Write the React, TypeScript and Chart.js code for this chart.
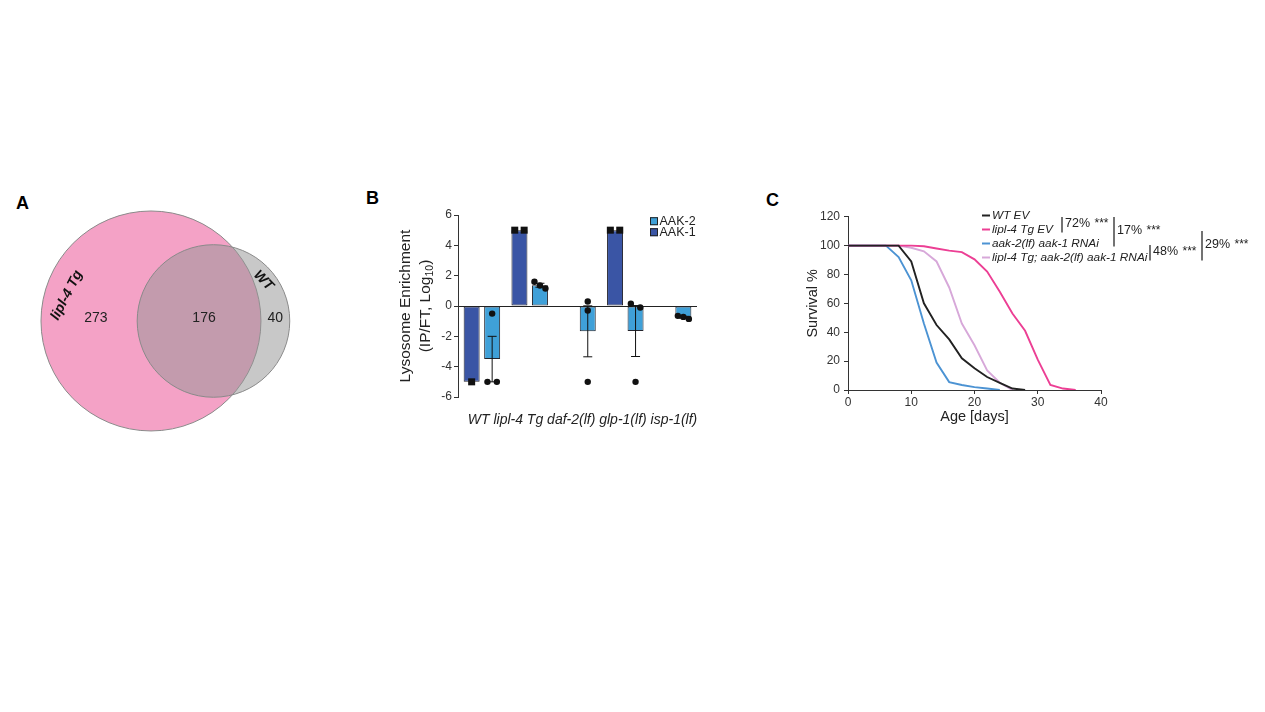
import React, { useEffect, useRef } from "react";
import { Chart, registerables } from "chart.js";

Chart.register(...registerables);

const FONT = "'Liberation Sans', Arial, Helvetica, sans-serif";
Chart.defaults.font.family = FONT;
Chart.defaults.color = "#333";

// ---- Panel A: lysosomal protein sets ----
const vennSetNames = ["lipl-4 Tg", "WT"];
const vennUniqueCounts = [273, 40];
const vennSharedCount = 176;

// ---- Panel B: lysosome enrichment of AAK-1 / AAK-2 ----
const strainLabels = ["WT", "lipl-4 Tg", "daf-2(lf)", "glp-1(lf)", "isp-1(lf)"];
const aak1Mean = [-5, 5, null, 5, null];
const aak1Sem = [0, 0, null, 0, null];
const aak1Points = [[-5], [5, 5], [], [5, 5], []];
const aak2Mean = [-3.5, 1.37, -1.67, -1.65, -0.74];
const aak2Sem = [1.5, 0.13, 1.68, 1.68, 0.06];
const aak2Points = [
  [-0.5, -5, -5],
  [1.6, 1.15, 1.35],
  [0.3, -0.3, -5],
  [0.15, -0.1, -5],
  [-0.85, -0.65, -0.72],
];
const enrichmentTicks = [-6, -4, -2, 0, 2, 4, 6];

// ---- Panel C: lifespan ----
const ageDays = [0, 2, 4, 6, 8, 10, 12, 14, 16, 18, 20, 22, 24, 26, 28, 30, 32, 34, 36];
const survivalWT = [100, 100, 100, 100, 100, 89, 60, 45, 35, 22, 15, 9, 5, 1, 0, null, null, null, null];
const survivalLipl4 = [100, 100, 100, 100, 100, 100, 99.5, 98, 96.5, 95.5, 90.5, 82, 68, 53, 41, 21, 3.5, 1, 0];
const survivalAak = [100, 100, 100, 100, 92, 76, 46, 19, 5.5, 3.5, 2, 1, 0, null, null, null, null, null, null];
const survivalLipl4Aak = [100, 100, 100, 100, 100, 98.5, 96, 89, 71, 46, 31, 13.5, 5, 0, null, null, null, null, null];
const survivalNames = ["WT EV", "lipl-4 Tg EV", "aak-2(lf) aak-1 RNAi", "lipl-4 Tg; aak-2(lf) aak-1 RNAi"];
const survivalColors = ["#222222", "#EC3F94", "#4C93D3", "#D7A8D9"];
const lifespanChange = ["72%", "17%", "48%", "29%"];
const lifespanPairs = [[0, 1], [0, 2], [2, 3], [1, 3]];
const survivalTicks = [0, 20, 40, 60, 80, 100, 120];
const ageTicks = [0, 10, 20, 30, 40];

// ---------- geometry for the area-proportional Venn ----------
function lensArea(r1: number, r2: number, d: number) {
  if (d >= r1 + r2) return 0;
  if (d <= Math.abs(r1 - r2)) return Math.PI * Math.min(r1, r2) ** 2;
  const a1 = Math.acos((d * d + r1 * r1 - r2 * r2) / (2 * d * r1));
  const a2 = Math.acos((d * d + r2 * r2 - r1 * r1) / (2 * d * r2));
  const k = Math.sqrt((-d + r1 + r2) * (d + r1 - r2) * (d - r1 + r2) * (d + r1 + r2));
  return r1 * r1 * a1 + r2 * r2 * a2 - 0.5 * k;
}

function centerDistance(r1: number, r2: number, shared: number) {
  let lo = Math.abs(r1 - r2);
  let hi = r1 + r2;
  for (let i = 0; i < 60; i++) {
    const mid = (lo + hi) / 2;
    if (lensArea(r1, r2, mid) > shared) lo = mid;
    else hi = mid;
  }
  return (lo + hi) / 2;
}

function drawRotated(ctx: CanvasRenderingContext2D, text: string, x: number, y: number, deg: number) {
  ctx.save();
  ctx.translate(x, y);
  ctx.rotate((deg * Math.PI) / 180);
  ctx.fillText(text, 0, 0);
  ctx.restore();
}

const VENN_W = 330;
const VENN_H = 290;
const VENN_X = { min: -16.41, max: 19.46 };
const VENN_Y = { min: -15.11, max: 16.41 };

function VennPanel() {
  const ref = useRef<HTMLCanvasElement>(null);
  useEffect(() => {
    const totals = [vennUniqueCounts[0] + vennSharedCount, vennUniqueCounts[1] + vennSharedCount];
    const radii = totals.map((n) => Math.sqrt(n / Math.PI));
    const dist = centerDistance(radii[0], radii[1], vennSharedCount);
    // axes are hidden and padding is zero, so the plot spans the whole canvas
    const pxPerUnit = VENN_W / (VENN_X.max - VENN_X.min);

    const labelsPlugin = {
      id: "vennLabels",
      afterDatasetsDraw(chart: any) {
        const ctx = chart.ctx as CanvasRenderingContext2D;
        const xs = chart.scales.x;
        const ys = chart.scales.y;
        const u = Math.abs(xs.getPixelForValue(1) - xs.getPixelForValue(0));
        const c1x = xs.getPixelForValue(0);
        const c2x = xs.getPixelForValue(dist);
        const cy = ys.getPixelForValue(0);
        const R1 = radii[0] * u;
        const R2 = radii[1] * u;
        const aLeft = c1x - R1;
        const aRight = c1x + R1;
        const bLeft = c2x - R2;
        const bRight = c2x + R2;
        ctx.save();
        ctx.fillStyle = "#222";
        ctx.textAlign = "center";
        ctx.textBaseline = "middle";
        ctx.font = `14px ${FONT}`;
        ctx.fillText(String(vennUniqueCounts[0]), aLeft + 0.57 * (bLeft - aLeft), cy - 3);
        ctx.fillText(String(vennSharedCount), bLeft + 0.54 * (aRight - bLeft), cy - 3);
        ctx.fillText(String(vennUniqueCounts[1]), (aRight + bRight) / 2, cy - 3);

        ctx.fillStyle = "#111";
        ctx.font = `italic bold 14px ${FONT}`;
        const t1 = (197 * Math.PI) / 180;
        drawRotated(ctx, vennSetNames[0], c1x + (R1 - 22) * Math.cos(t1), cy + (R1 - 22) * Math.sin(t1), -63);
        const t2 = (-39 * Math.PI) / 180;
        drawRotated(ctx, vennSetNames[1], c2x + (R2 - 12) * Math.cos(t2), cy + (R2 - 12) * Math.sin(t2), 45);
        ctx.restore();
      },
    };

    const chart = new Chart(ref.current as HTMLCanvasElement, {
      type: "bubble",
      data: {
        datasets: [
          {
            label: vennSetNames[1],
            data: [{ x: dist, y: 0, r: radii[1] * pxPerUnit }],
            backgroundColor: "rgba(150,150,150,0.52)",
            borderColor: "#8a8a8a",
            borderWidth: 1,
            order: 0,
            clip: false,
          } as any,
          {
            label: vennSetNames[0],
            data: [{ x: 0, y: 0, r: radii[0] * pxPerUnit }],
            backgroundColor: "#F4A2C6",
            borderColor: "#8a8a8a",
            borderWidth: 1,
            order: 1,
            clip: false,
          } as any,
        ],
      },
      options: {
        responsive: false,
        animation: false,
        events: [],
        layout: { padding: 0, autoPadding: false },
        plugins: { legend: { display: false }, tooltip: { enabled: false } },
        scales: {
          x: { type: "linear", display: false, min: VENN_X.min, max: VENN_X.max },
          y: { type: "linear", display: false, min: VENN_Y.min, max: VENN_Y.max },
        },
      },
      plugins: [labelsPlugin],
    });
    return () => chart.destroy();
  }, []);
  return (
    <canvas ref={ref} width={VENN_W} height={VENN_H} style={{ position: "absolute", left: 0, top: 170 }} />
  );
}

function EnrichmentPanel() {
  const ref = useRef<HTMLCanvasElement>(null);
  useEffect(() => {
    const series = [
      { mean: aak1Mean, sem: aak1Sem, pts: aak1Points, square: true },
      { mean: aak2Mean, sem: aak2Sem, pts: aak2Points, square: false },
    ];
    const fills = ["#3A55A5", "#3FA0D8"];

    const marksPlugin = {
      id: "enrichmentMarks",
      afterDatasetsDraw(chart: any) {
        const ctx = chart.ctx as CanvasRenderingContext2D;
        const y = chart.scales.y;
        ctx.save();
        series.forEach((s, di) => {
          const meta = chart.getDatasetMeta(di);
          meta.data.forEach((bar: any, i: number) => {
            const m = s.mean[i];
            if (m === null || m === undefined) return;
            const cx = bar.x;
            const e = s.sem[i] as number;
            if (e > 0) {
              const yTop = y.getPixelForValue(m + e);
              const yBot = y.getPixelForValue(m - e);
              ctx.strokeStyle = "#111";
              ctx.lineWidth = 1;
              ctx.beginPath();
              ctx.moveTo(cx, yTop);
              ctx.lineTo(cx, yBot);
              ctx.moveTo(cx - 4.5, yTop);
              ctx.lineTo(cx + 4.5, yTop);
              ctx.moveTo(cx - 4.5, yBot);
              ctx.lineTo(cx + 4.5, yBot);
              ctx.stroke();
            }
            // individual replicates, spread sideways where they overlap
            const px = s.pts[i].map((v: number) => y.getPixelForValue(v));
            const order = px.map((_: number, k: number) => k).sort((a: number, b: number) => px[a] - px[b]);
            const clusters: number[][] = [];
            order.forEach((k: number) => {
              const last = clusters[clusters.length - 1];
              if (last && Math.abs(px[k] - px[last[last.length - 1]]) < 6.5) last.push(k);
              else clusters.push([k]);
            });
            ctx.fillStyle = "#111";
            clusters.forEach((cl) => {
              const n = cl.length;
              const gap = n === 1 ? 0 : Math.min(9.4, 11 / (n - 1));
              cl.forEach((k, j) => {
                const x = cx + (j - (n - 1) / 2) * gap;
                if (s.square) {
                  ctx.fillRect(x - 3.5, px[k] - 3.5, 7, 7);
                } else {
                  ctx.beginPath();
                  ctx.arc(x, px[k], 3.2, 0, Math.PI * 2);
                  ctx.fill();
                }
              });
            });
          });
        });
        ctx.restore();
      },
      afterDraw(chart: any) {
        const ctx = chart.ctx as CanvasRenderingContext2D;
        const a = chart.chartArea;
        ctx.save();
        // legend (AAK-2 listed first)
        ctx.font = `12.5px ${FONT}`;
        ctx.textBaseline = "middle";
        ctx.textAlign = "left";
        const legendRows = [1, 0];
        legendRows.forEach((di, r) => {
          const ly = a.top + 6.2 + r * 11;
          const lx = a.left + 192;
          ctx.fillStyle = fills[di];
          ctx.fillRect(lx, ly - 4, 8, 8);
          ctx.strokeStyle = "#222";
          ctx.lineWidth = 1;
          ctx.strokeRect(lx + 0.5, ly - 3.5, 7, 7);
          ctx.fillStyle = "#222";
          ctx.fillText(chart.data.datasets[di].label, lx + 9.5, ly + 0.5);
        });

        // strain names under the axis
        ctx.font = `italic 14px ${FONT}`;
        ctx.textAlign = "center";
        ctx.fillStyle = "#222";
        ctx.fillText(strainLabels.join(" "), (a.left + a.right) / 2 + 5, a.bottom + 23);

        // y-axis title with subscript
        const cy = (a.top + a.bottom) / 2;
        ctx.save();
        ctx.translate(a.left - 52, cy);
        ctx.rotate(-Math.PI / 2);
        ctx.textAlign = "center";
        ctx.font = `15.5px ${FONT}`;
        ctx.fillText("Lysosome Enrichment", 0, 0);
        ctx.restore();

        ctx.save();
        ctx.translate(a.left - 32, cy);
        ctx.rotate(-Math.PI / 2);
        ctx.textAlign = "left";
        const main = `15.5px ${FONT}`;
        const sub = `10.5px ${FONT}`;
        const parts = [
          { t: "(IP/FT, Log", f: main, dy: 0 },
          { t: "10", f: sub, dy: 4 },
          { t: ")", f: main, dy: 0 },
        ];
        let total = 0;
        parts.forEach((p) => {
          ctx.font = p.f;
          total += ctx.measureText(p.t).width;
        });
        let x = -total / 2;
        parts.forEach((p) => {
          ctx.font = p.f;
          ctx.fillText(p.t, x, p.dy);
          x += ctx.measureText(p.t).width;
        });
        ctx.restore();
        ctx.restore();
      },
    };

    const chart = new Chart(ref.current as HTMLCanvasElement, {
      type: "bar",
      data: {
        labels: strainLabels,
        datasets: [
          {
            label: "AAK-1",
            data: aak1Mean,
            backgroundColor: fills[0],
            borderColor: "#24242c",
            borderWidth: 1,
            borderSkipped: false,
            barPercentage: 0.78,
            categoryPercentage: 0.858,
          },
          {
            label: "AAK-2",
            data: aak2Mean,
            backgroundColor: fills[1],
            borderColor: "#24242c",
            borderWidth: 1,
            borderSkipped: false,
            barPercentage: 0.78,
            categoryPercentage: 0.858,
          },
        ],
      },
      options: {
        responsive: false,
        animation: false,
        events: [],
        layout: { padding: { left: 0, right: 43, top: 45, bottom: 0 } },
        plugins: { legend: { display: false }, tooltip: { enabled: false } },
        scales: {
          x: {
            grid: { display: false },
            border: { display: false },
            ticks: { display: false },
            afterFit: (s: any) => {
              s.height = 43;
            },
          },
          y: {
            min: -6,
            max: 6,
            afterBuildTicks: (s: any) => {
              s.ticks = enrichmentTicks.map((v) => ({ value: v }));
            },
            ticks: { font: { size: 12 }, color: "#333", padding: 2 },
            grid: {
              color: (c: any) => (c.tick && c.tick.value === 0 ? "#222" : "rgba(0,0,0,0)"),
              tickColor: "#333",
              tickLength: 4,
              lineWidth: 1,
            },
            border: { display: true, color: "#333", width: 1 },
            afterFit: (s: any) => {
              s.width = 118;
            },
          },
        },
      },
      plugins: [marksPlugin],
    });
    return () => chart.destroy();
  }, []);
  return <canvas ref={ref} width={400} height={270} style={{ position: "absolute", left: 340, top: 170 }} />;
}

function SurvivalPanel() {
  const ref = useRef<HTMLCanvasElement>(null);
  useEffect(() => {
    const curves = [survivalWT, survivalLipl4, survivalAak, survivalLipl4Aak];

    const legendPlugin = {
      id: "survivalLegend",
      afterDraw(chart: any) {
        const ctx = chart.ctx as CanvasRenderingContext2D;
        const a = chart.chartArea;
        const x0 = a.left + 134;
        const rowY = (i: number) => a.top - 1.2 + 14 * i;
        ctx.save();
        ctx.textBaseline = "middle";
        ctx.textAlign = "left";
        survivalNames.forEach((name, i) => {
          ctx.strokeStyle = survivalColors[i];
          ctx.lineWidth = 2;
          ctx.beginPath();
          ctx.moveTo(x0, rowY(i));
          ctx.lineTo(x0 + 8, rowY(i));
          ctx.stroke();
          ctx.fillStyle = "#222";
          ctx.font = `italic 11.8px ${FONT}`;
          ctx.fillText(name, x0 + 10, rowY(i));
        });
        const statX = [214, 266, 302, 354];
        lifespanChange.forEach((lab, k) => {
          const [r1, r2] = lifespanPairs[k];
          const top = rowY(r1) + 1.5;
          const bottom = rowY(r2) + 3;
          const bx = a.left + statX[k];
          ctx.strokeStyle = "#444";
          ctx.lineWidth = 1.5;
          ctx.beginPath();
          ctx.moveTo(bx, top);
          ctx.lineTo(bx, bottom);
          ctx.stroke();
          const ty = (top + bottom) / 2 - 1;
          ctx.fillStyle = "#222";
          ctx.font = `12.5px ${FONT}`;
          ctx.fillText(lab, bx + 3, ty);
          const w = ctx.measureText(lab).width;
          ctx.font = `12px ${FONT}`;
          ctx.fillText("***", bx + 3 + w + 4.5, ty);
        });
        ctx.restore();
      },
    };

    const chart = new Chart(ref.current as HTMLCanvasElement, {
      type: "line",
      data: {
        datasets: curves.map((arr, i) => ({
          label: survivalNames[i],
          data: ageDays.map((d, k) => ({ x: d, y: arr[k] })),
          borderColor: survivalColors[i],
          backgroundColor: survivalColors[i],
          borderWidth: 1.9,
          pointRadius: 0,
          tension: 0,
          fill: false,
        })),
      },
      options: {
        responsive: false,
        animation: false,
        events: [],
        layout: { padding: { left: 0, right: 164, top: 46.7, bottom: 0 } },
        plugins: { legend: { display: false }, tooltip: { enabled: false } },
        scales: {
          x: {
            type: "linear",
            min: 0,
            max: 40,
            afterBuildTicks: (s: any) => {
              s.ticks = ageTicks.map((v) => ({ value: v }));
            },
            ticks: { font: { size: 12 }, color: "#333", padding: 1, maxRotation: 0 },
            grid: { drawOnChartArea: false, tickLength: 4, tickColor: "#333" },
            border: { color: "#333", width: 1 },
            title: {
              display: true,
              text: "Age [days]",
              font: { size: 14.5 },
              color: "#222",
              padding: { top: 0, bottom: 14.6 },
            },
            afterFit: (s: any) => {
              s.height = 50;
            },
          },
          y: {
            type: "linear",
            min: 0,
            max: 120,
            afterBuildTicks: (s: any) => {
              s.ticks = survivalTicks.map((v) => ({ value: v }));
            },
            ticks: { font: { size: 12 }, color: "#333", padding: 4 },
            grid: { drawOnChartArea: false, tickLength: 4, tickColor: "#333" },
            border: { color: "#333", width: 1 },
            title: {
              display: true,
              text: "Survival %",
              font: { size: 14.5 },
              color: "#222",
              padding: { top: 64, bottom: 0 },
            },
            afterFit: (s: any) => {
              s.width = 108;
            },
          },
        },
      },
      plugins: [legendPlugin],
    });
    return () => chart.destroy();
  }, []);
  return <canvas ref={ref} width={525} height={270} style={{ position: "absolute", left: 740, top: 170 }} />;
}

const panelLetter: React.CSSProperties = {
  position: "absolute",
  fontWeight: "bold",
  fontSize: 18,
  lineHeight: 1,
  color: "#000",
};

export default function App() {
  return (
    <div
      style={{
        position: "fixed",
        left: 0,
        top: 0,
        width: 1265,
        height: 712,
        background: "#fff",
        fontFamily: FONT,
        overflow: "hidden",
      }}
    >
      <div style={{ ...panelLetter, left: 16, top: 194 }}>A</div>
      <div style={{ ...panelLetter, left: 366, top: 189 }}>B</div>
      <div style={{ ...panelLetter, left: 766, top: 191 }}>C</div>
      <VennPanel />
      <EnrichmentPanel />
      <SurvivalPanel />
    </div>
  );
}
